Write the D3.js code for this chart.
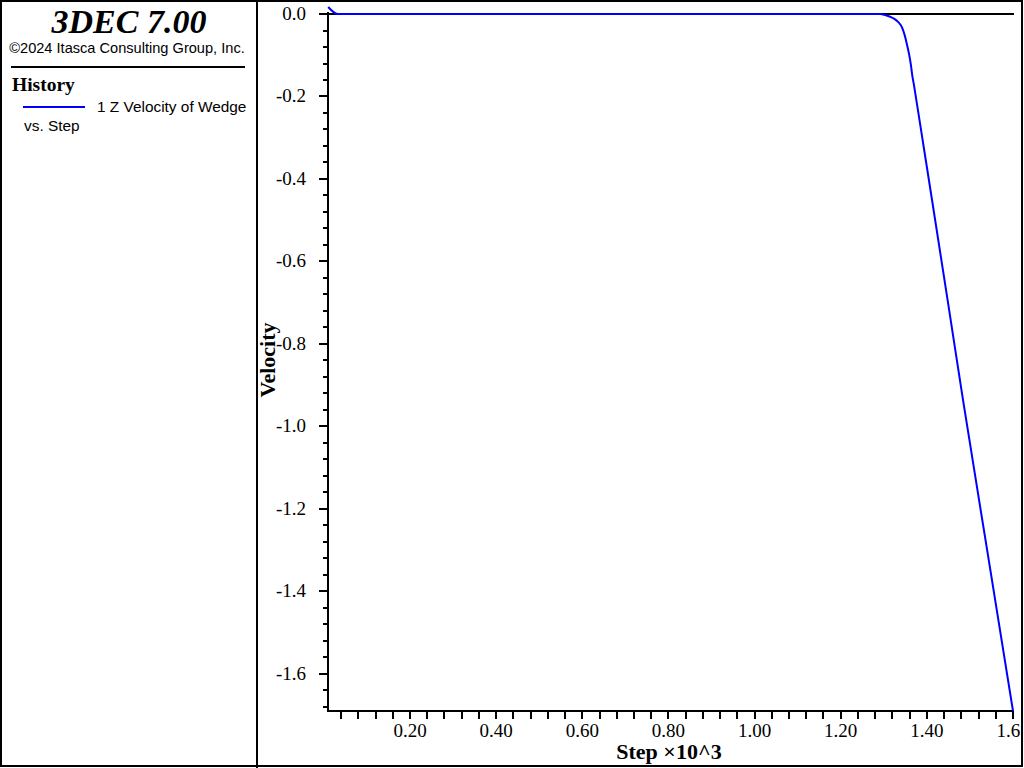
<!DOCTYPE html>
<html><head><meta charset="utf-8">
<script src="https://cdn.jsdelivr.net/npm/d3@7"></script>
<style>body{margin:0;background:#fff}svg{display:block}</style>
</head><body>
<script>
// Data (step, Z velocity)
const steps = [10, 32, 200, 600, 1000, 1292, 1303, 1321, 1333, 1343, 1349, 1354, 1359, 1363, 1366, 1370, 1375, 1380, 1389, 1400, 1412, 1450, 1484, 1540, 1600];
const velocity = [0.017, 0, 0, 0, 0, 0, -0.0024, -0.0097, -0.019, -0.034, -0.053, -0.075, -0.099, -0.124, -0.148, -0.172, -0.205, -0.238, -0.298, -0.371, -0.451, -0.706, -0.936, -1.30, -1.69];
const xTicks = [0.2, 0.4, 0.6, 0.8, 1.0, 1.2, 1.4, 1.6];
const xTickLabels = ["0.20", "0.40", "0.60", "0.80", "1.00", "1.20", "1.40", "1.6"];
const yTicks = [0.0, -0.2, -0.4, -0.6, -0.8, -1.0, -1.2, -1.4, -1.6];
const yTickLabels = ["0.0", "-0.2", "-0.4", "-0.6", "-0.8", "-1.0", "-1.2", "-1.4", "-1.6"];
const seriesLabel = "1 Z Velocity of Wedge";

const W = 1024, H = 768;
const svg = d3.select("body").append("svg").attr("width", W).attr("height", H);
const serif = "Liberation Serif", sans = "Liberation Sans";

// frame
svg.append("rect").attr("x", 1).attr("y", 1).attr("width", 1021).attr("height", 765)
  .attr("fill", "none").attr("stroke", "#000").attr("stroke-width", 2);
svg.append("line").attr("x1", 257).attr("x2", 257).attr("y1", 0).attr("y2", H)
  .attr("stroke", "#000").attr("stroke-width", 2);

// left panel
svg.append("text").attr("x", 129).attr("y", 33).attr("text-anchor", "middle")
  .style("font-family", serif).style("font-weight", "bold").style("font-style", "italic")
  .style("font-size", "34px").text("3DEC 7.00");
svg.append("text").attr("x", 127).attr("y", 53).attr("text-anchor", "middle")
  .style("font-family", sans).style("font-size", "14.6px")
  .text("\u00A92024 Itasca Consulting Group, Inc.");
svg.append("line").attr("x1", 11).attr("x2", 245).attr("y1", 67).attr("y2", 67)
  .attr("stroke", "#000").attr("stroke-width", 2);
svg.append("text").attr("x", 12).attr("y", 91)
  .style("font-family", serif).style("font-weight", "bold").style("font-size", "19.5px").text("History");
svg.append("line").attr("x1", 23).attr("x2", 85).attr("y1", 107).attr("y2", 107)
  .attr("stroke", "#0000ff").attr("stroke-width", 2);
svg.append("text").attr("x", 97).attr("y", 112)
  .style("font-family", sans).style("font-size", "15.4px").text(seriesLabel);
svg.append("text").attr("x", 24).attr("y", 131)
  .style("font-family", sans).style("font-size", "15.4px").text("vs. Step");

// scales (x in 10^3 steps)
const x = d3.scaleLinear().domain([0.0095, 1.6]).range([328, 1013]);
const y = d3.scaleLinear().domain([-1.69, 0.017]).range([711, 7]);

const g = svg.append("g");

// zero line
g.append("line").attr("x1", x(0.0095)).attr("x2", 1014).attr("y1", y(0)).attr("y2", y(0))
  .attr("stroke", "#000").attr("stroke-width", 2);

// y axis
const yMinor = d3.range(0, 43).map(i => -i * 0.04).filter(v => v >= -1.69);
const yAxis = g.append("g").attr("transform", "translate(328,0)");
yAxis.append("line").attr("x1", 0).attr("x2", 0).attr("y1", 12).attr("y2", 712)
  .attr("stroke", "#000").attr("stroke-width", 2);
yAxis.selectAll("line.mn").data(yMinor).enter().append("line").attr("class", "mn")
  .attr("x1", -5).attr("x2", 0).attr("y1", d => Math.round(y(d))).attr("y2", d => Math.round(y(d)))
  .attr("stroke", "#000").attr("stroke-width", 2);
yAxis.selectAll("line.mj").data(yTicks).enter().append("line").attr("class", "mj")
  .attr("x1", -9).attr("x2", 0).attr("y1", d => Math.round(y(d))).attr("y2", d => Math.round(y(d)))
  .attr("stroke", "#000").attr("stroke-width", 2);
yAxis.selectAll("text").data(yTicks).enter().append("text")
  .attr("x", -22).attr("y", d => y(d) + 6).attr("text-anchor", "end")
  .style("font-family", serif).style("font-size", "19px")
  .text((d, i) => yTickLabels[i]);

// x axis
const xMinor = d3.range(1, 41).map(i => i * 0.04).filter(v => v <= 1.6001);
const xAxis = g.append("g").attr("transform", "translate(0,711)");
xAxis.append("line").attr("x1", 327).attr("x2", 1014).attr("y1", 0).attr("y2", 0)
  .attr("stroke", "#000").attr("stroke-width", 2);
xAxis.selectAll("line.t").data(xMinor).enter().append("line").attr("class", "t")
  .attr("x1", d => Math.round(x(d))).attr("x2", d => Math.round(x(d))).attr("y1", 0).attr("y2", 8)
  .attr("stroke", "#000").attr("stroke-width", 2);
// measure full-width label to place the truncated last label consistently
const probe = svg.append("text").style("font-family", serif).style("font-size", "19px").text("0.00");
const fullW = probe.node().getComputedTextLength();
probe.remove();
xAxis.selectAll("text").data(xTicks).enter().append("text")
  .attr("x", d => x(d) - fullW / 2).attr("y", 26).attr("text-anchor", "start")
  .style("font-family", serif).style("font-size", "19px")
  .text((d, i) => xTickLabels[i]);

// axis titles
svg.append("text").attr("x", 669).attr("y", 759).attr("text-anchor", "middle")
  .style("font-family", serif).style("font-weight", "bold").style("font-size", "22px")
  .text("Step \u00D710^3");
svg.append("text").attr("transform", "translate(275,360) rotate(-90)").attr("text-anchor", "middle")
  .style("font-family", serif).style("font-weight", "bold").style("font-size", "22px")
  .text("Velocity");

// series
const pts = steps.map((s, i) => [s / 1000, velocity[i]]);
g.append("path").datum(pts)
  .attr("d", d3.line().x(d => x(d[0])).y(d => y(d[1])).curve(d3.curveMonotoneX))
  .attr("fill", "none").attr("stroke", "#0000ff").attr("stroke-width", 2);
</script>
</body></html>
